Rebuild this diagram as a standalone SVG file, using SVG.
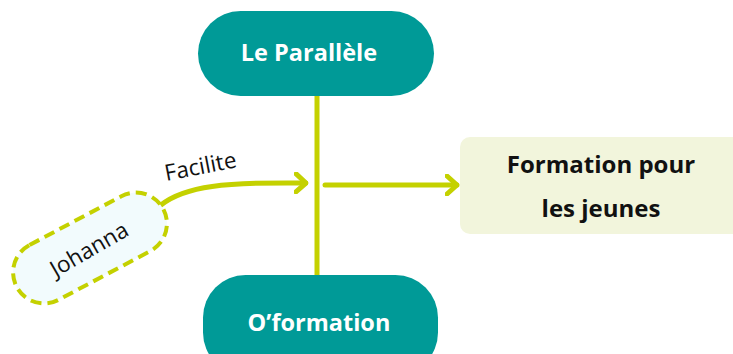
<svg xmlns="http://www.w3.org/2000/svg" width="733" height="354" viewBox="0 0 733 354">
<style>
.pill{fill:#009a97}
.ptxt{font-family:"Open Sans","Noto Sans",sans-serif;font-weight:bold;font-size:23.5px;fill:#ffffff;text-anchor:middle}
.btxt{font-family:"Open Sans","Noto Sans",sans-serif;font-weight:bold;font-size:24px;fill:#111111;text-anchor:middle}
.ltxt{font-family:"Open Sans","Noto Sans",sans-serif;font-size:22.5px;fill:#111111;text-anchor:middle}
.conn{fill:none;stroke:#c4d100;stroke-width:5;stroke-linecap:round;stroke-linejoin:round}
</style>
<defs>
<marker id="chev" markerWidth="14" markerHeight="22" refX="12" refY="11" orient="auto" markerUnits="userSpaceOnUse">
<path d="M2,2 L12,11 L2,20" fill="none" stroke="#c4d100" stroke-width="5" stroke-linecap="round" stroke-linejoin="round"/>
</marker>
</defs>
<g id="connectors">
<line class="conn" x1="317" y1="96" x2="317" y2="276" stroke-linecap="butt"/>
<line class="conn" x1="325" y1="185" x2="457" y2="185" marker-end="url(#chev)" stroke-linecap="butt"/>
<path class="conn" d="M161,205 C185,186 225,182 306,183" marker-end="url(#chev)"/>
<text class="ltxt" x="202" y="174" transform="rotate(-11 202 174)">Facilite</text>
</g>
<g id="le-parallele">
<rect class="pill" x="198" y="11" width="236" height="85" rx="42.5"/>
<text class="ptxt" x="309" y="61">Le Parallèle</text>
</g>
<g id="oformation">
<rect class="pill" x="203" y="275" width="235" height="100" rx="42.5"/>
<text class="ptxt" x="319" y="331">O’formation</text>
</g>
<g id="formation-jeunes">
<rect x="460" y="137" width="290" height="97" rx="10" fill="#f2f5dc"/>
<text class="btxt" x="601" y="173">Formation pour</text>
<text class="btxt" x="601" y="217">les jeunes</text>
</g>
<g id="johanna">
<rect x="7" y="217" width="166" height="62" rx="31" transform="rotate(-28 90 248)" fill="#f2fbfd" stroke="#c4d100" stroke-width="4" stroke-dasharray="11 6"/>
<text class="ltxt" x="93" y="256" transform="rotate(-30 93 256)">Johanna</text>
</g>
</svg>
